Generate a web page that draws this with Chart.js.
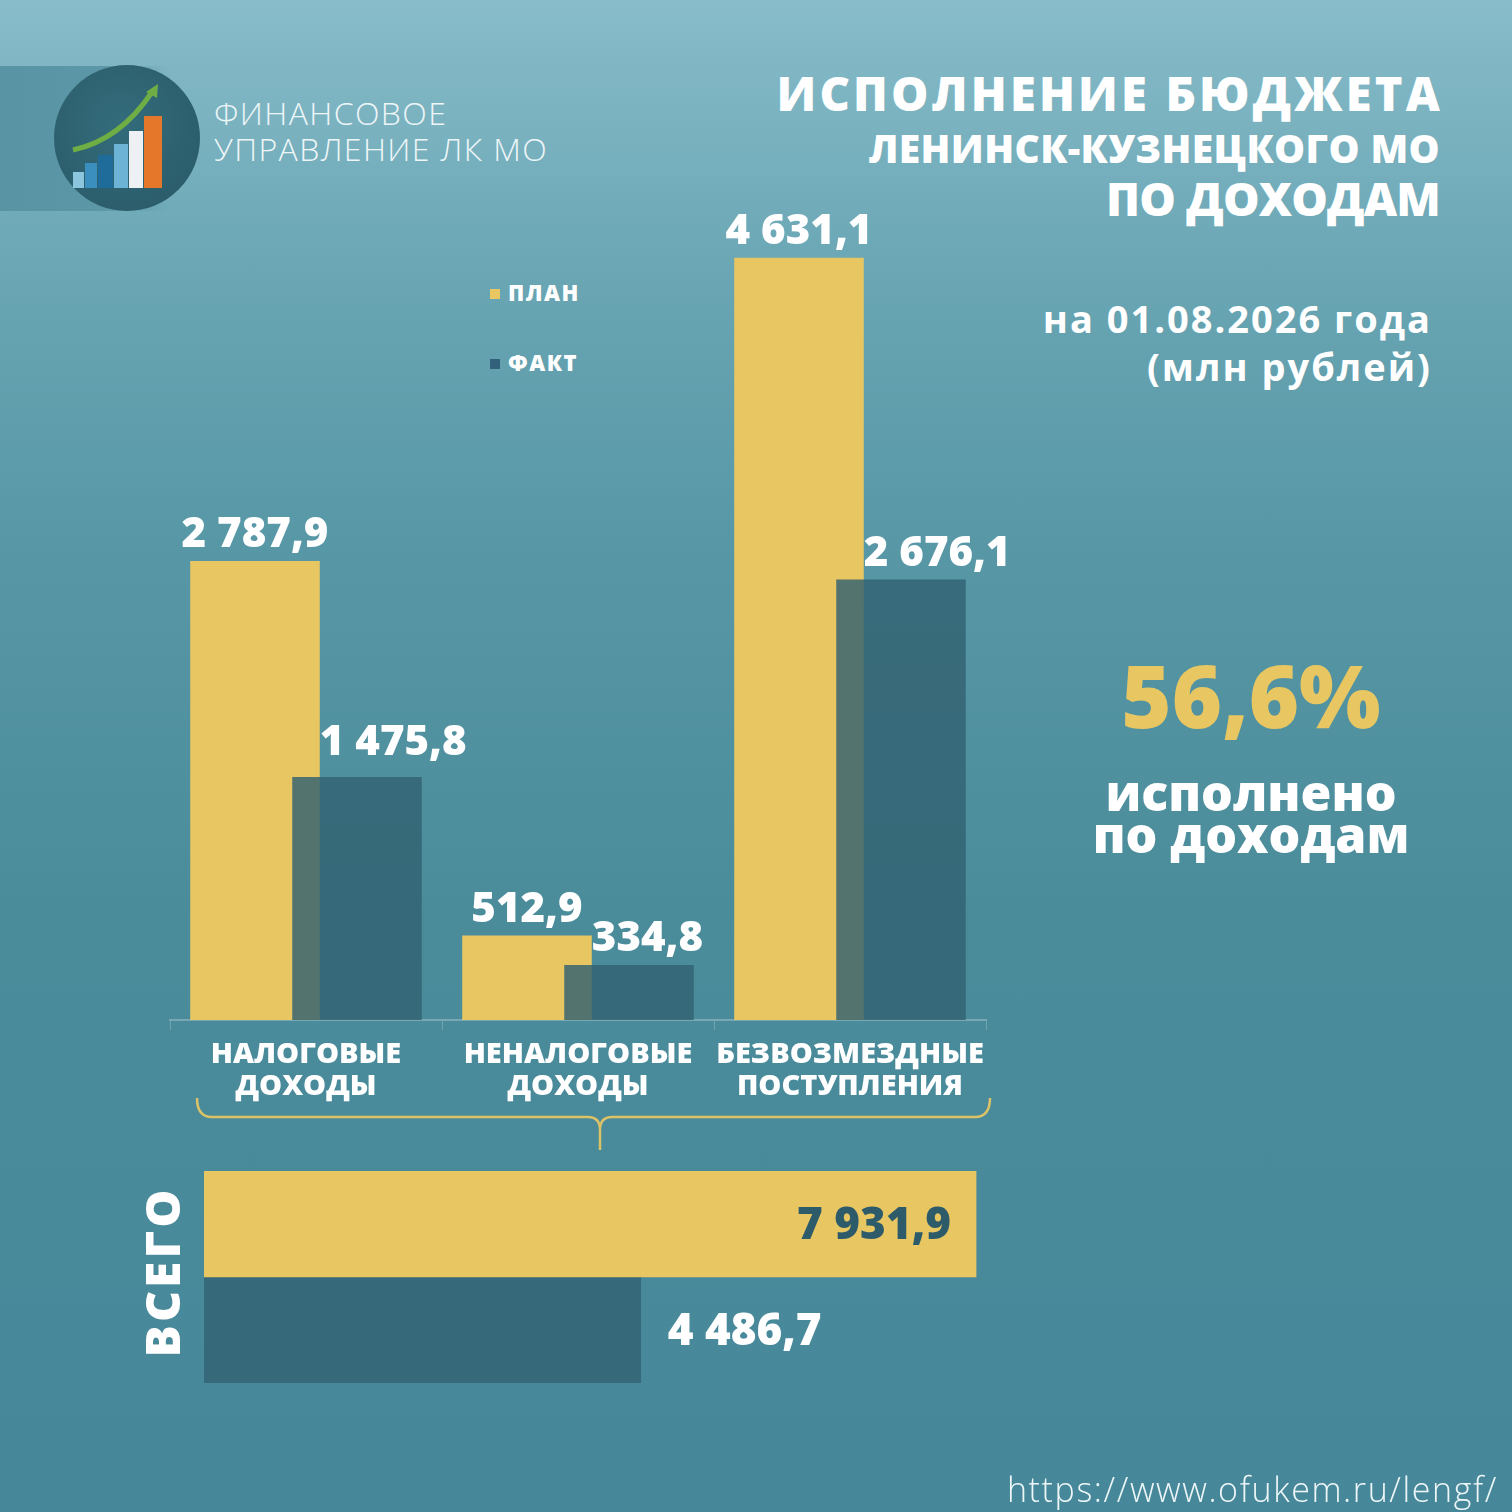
<!DOCTYPE html>
<html lang="ru">
<head>
<meta charset="utf-8">
<title>Исполнение бюджета по доходам</title>
<script src="https://cdn.jsdelivr.net/npm/chart.js@4.4.1/dist/chart.umd.min.js"></script>
<style>
  html, body { margin: 0; padding: 0; }
  body {
    width: 1512px; height: 1512px; position: relative; overflow: hidden;
    background: linear-gradient(180deg, #88bcca 0%, #6aa6b4 18%, #5797a6 36%, #4b8c9b 60%, #46889a 100%);
    font-family: "Open Sans", sans-serif; color: #fff;
  }
  .abs { position: absolute; white-space: nowrap; }
  .band { left: 0; top: 66px; width: 170px; height: 145px;
    background: linear-gradient(90deg, #5894a3 0%, #5b97a6 60%, rgba(91,151,166,0) 100%); }
  .org { left: 214px; top: 95px; font-size: 32px; font-weight: 300; line-height: 36px; color: #eef6f8; letter-spacing: 1.4px; }
  .title { right: 72px; text-align: right; font-weight: 800; line-height: 1; }
  .date { right: 80px; top: 294px; text-align: right; font-weight: 700; font-size: 38px; line-height: 48px; letter-spacing: 2px; }
  .legend { left: 490px; font-weight: 800; font-size: 22px; line-height: 22px; letter-spacing: 1.5px; }
  .legend i { display: inline-block; width: 10px; height: 10px; margin-right: 8px; vertical-align: 2px; }
  .pct { left: 1051px; width: 400px; top: 652px; text-align: center; font-weight: 800; font-size: 86px; line-height: 1; color: #e8c662; }
  .done { left: 1051px; width: 400px; top: 771px; text-align: center; font-weight: 800; font-size: 50px; line-height: 42px; }
  .total { left: 162px; top: 1272px; font-weight: 800; font-size: 48px; line-height: 1; letter-spacing: 3px;
    transform: translate(-50%, -50%) rotate(-90deg); }
  .url { right: 14px; top: 1466px; font-size: 34px; font-weight: 300; color: #eef6f8; letter-spacing: 1.6px; }
  canvas { position: absolute; }
</style>
</head>
<body>
<div class="abs band"></div>
<svg class="abs" style="left:50px;top:62px" width="156" height="156" viewBox="50 62 156 156">
  <defs>
    <radialGradient id="lg" cx="0.45" cy="0.4" r="0.7">
      <stop offset="0" stop-color="#346c7b"/>
      <stop offset="1" stop-color="#2a5b69"/>
    </radialGradient>
  </defs>
  <circle cx="127" cy="138" r="73" fill="url(#lg)"/>
  <rect x="73" y="172" width="11" height="16" fill="#8cc6de"/>
  <rect x="85" y="163" width="12" height="25" fill="#3b8fbf"/>
  <rect x="98" y="155" width="15" height="33" fill="#1f6b9a"/>
  <rect x="114" y="144" width="14" height="44" fill="#6cb3d6"/>
  <rect x="129" y="131" width="14" height="57" fill="#eef1f4"/>
  <rect x="144" y="116" width="18" height="72" fill="#e5772a"/>
  <path d="M73 150 Q120 140 152 92" stroke="#6fae45" stroke-width="5" fill="none"/>
  <path d="M146 92 L158 84 L157 98 Z" fill="#6fae45"/>
</svg>
<div class="abs org">ФИНАНСОВОЕ<br>УПРАВЛЕНИЕ ЛК МО</div>

<div class="abs title" style="top:70px;font-size:47px;letter-spacing:3.2px;right:69px">ИСПОЛНЕНИЕ БЮДЖЕТА</div>
<div class="abs title" style="top:128px;font-size:39px;letter-spacing:0.4px">ЛЕНИНСК-КУЗНЕЦКОГО МО</div>
<div class="abs title" style="top:175px;font-size:46px;letter-spacing:-0.8px">ПО ДОХОДАМ</div>
<div class="abs date">на 01.08.2026 года<br>(млн рублей)</div>

<div class="abs legend" style="top:281px"><i style="background:#e8c662"></i>ПЛАН</div>
<div class="abs legend" style="top:351px"><i style="background:#33607a"></i>ФАКТ</div>

<div class="abs pct">56,6%</div>
<div class="abs done">исполнено<br>по доходам</div>

<canvas id="barChart" width="880" height="933" style="left:150px;top:197px"></canvas>

<svg class="abs" style="left:0;top:0" width="1512" height="1512" pointer-events="none">
  <path d="M197 1098 Q197 1117 212 1117 L588 1117 Q600 1117 600 1130 L600 1150 M600 1150 L600 1130 Q600 1117 612 1117 L975 1117 Q990 1117 990 1098"
        stroke="#dcc266" stroke-width="2.5" fill="none"/>
</svg>

<div class="abs total">ВСЕГО</div>
<canvas id="totalChart" width="876" height="212" style="left:204px;top:1171px"></canvas>

<div class="abs url">https://www.ofukem.ru/lengf/</div>

<script>
const categories = [["НАЛОГОВЫЕ", "ДОХОДЫ"], ["НЕНАЛОГОВЫЕ", "ДОХОДЫ"], ["БЕЗВОЗМЕЗДНЫЕ", "ПОСТУПЛЕНИЯ"]];
const planValues = [2787.9, 512.9, 4631.1];
const factValues = [1475.8, 334.8, 2676.1];
const totalLabels = ["ВСЕГО"];
const totalPlan = [7931.9];
const totalFact = [4486.7];

const PLAN_COLOR = "#e8c662";
const FACT_COLOR = "rgba(50, 97, 114, 0.82)";
const FONT = "'Open Sans', sans-serif";

function fmt(v) {
    const parts = v.toFixed(1).split(".");
    return parts[0].replace(/\B(?=(\d{3})+(?!\d))/g, " ") + "," + parts[1];
}

// fact bars are drawn after the plan bars so they sit on top where they overlap
const factOnTop = {
    id: "factOnTop",
    beforeDatasetDraw(chart, args) {
        if (args.index === 1) return false;
    },
    afterDatasetsDraw(chart) {
        chart.getDatasetMeta(1).controller.draw();

        const ctx = chart.ctx;
        const planBars = chart.getDatasetMeta(0).data;
        const factBars = chart.getDatasetMeta(1).data;
        ctx.save();
        ctx.fillStyle = "#fff";
        ctx.font = "800 42px " + FONT;
        ctx.textBaseline = "alphabetic";
        planBars.forEach((bar, i) => {
            ctx.textAlign = "center";
            ctx.fillText(fmt(planValues[i]), bar.x, bar.y - 14);
            const f = factBars[i];
            ctx.textAlign = "left";
            ctx.fillText(fmt(factValues[i]), bar.x + bar.width / 2, f.y - (i === 0 ? 22 : 14));
        });
        ctx.restore();
    }
};

new Chart(document.getElementById("barChart"), {
    type: "bar",
    data: {
        labels: categories,
        datasets: [
            { label: "ПЛАН", data: planValues, backgroundColor: PLAN_COLOR },
            { label: "ФАКТ", data: factValues, backgroundColor: FACT_COLOR }
        ]
    },
    options: {
        responsive: false,
        animation: false,
        devicePixelRatio: 1,
        categoryPercentage: 0.75,
        barPercentage: 1.27,
        layout: { padding: { left: 20, right: 44, top: 0, bottom: 0 } },
        plugins: { legend: { display: false }, tooltip: { enabled: false } },
        scales: {
            y: { display: false, min: 0, max: 5000 },
            x: {
                grid: { offset: true, drawOnChartArea: false, color: "rgba(255,255,255,0.22)", tickLength: 10 },
                border: { color: "rgba(255,255,255,0.25)", width: 2 },
                ticks: {
                    color: "#fff",
                    font: { family: FONT, weight: "800", size: 29, lineHeight: 1.1 },
                    padding: 9,
                    maxRotation: 0,
                    autoSkip: false
                },
                afterFit(scale) { scale.height = 110; }
            }
        }
    },
    plugins: [factOnTop]
});

const totalLabelsPlugin = {
    id: "totalLabels",
    afterDatasetsDraw(chart) {
        const ctx = chart.ctx;
        const p = chart.getDatasetMeta(0).data[0];
        const f = chart.getDatasetMeta(1).data[0];
        ctx.save();
        ctx.font = "800 44px " + FONT;
        ctx.textBaseline = "middle";
        ctx.textAlign = "right";
        ctx.fillStyle = "#2d5b6a";
        ctx.fillText(fmt(totalPlan[0]), p.x - 25, p.y + 2);
        ctx.textAlign = "left";
        ctx.fillStyle = "#fff";
        ctx.fillText(fmt(totalFact[0]), f.x + 27, f.y + 2);
        ctx.restore();
    }
};

new Chart(document.getElementById("totalChart"), {
    type: "bar",
    data: {
        labels: totalLabels,
        datasets: [
            { label: "ПЛАН", data: totalPlan, backgroundColor: PLAN_COLOR },
            { label: "ФАКТ", data: totalFact, backgroundColor: FACT_COLOR }
        ]
    },
    options: {
        indexAxis: "y",
        responsive: false,
        animation: false,
        devicePixelRatio: 1,
        categoryPercentage: 1,
        barPercentage: 1,
        layout: { padding: 0 },
        plugins: { legend: { display: false }, tooltip: { enabled: false } },
        scales: {
            x: { display: false, min: 0, max: 9000 },
            y: { display: false }
        }
    },
    plugins: [totalLabelsPlugin]
});
</script>
</body>
</html>
